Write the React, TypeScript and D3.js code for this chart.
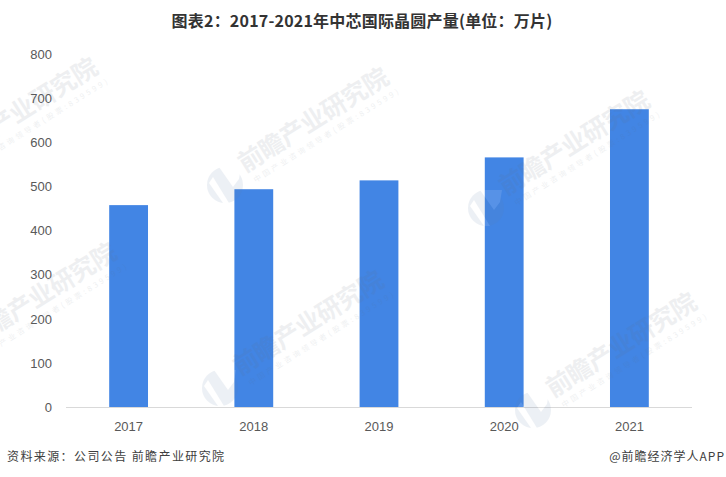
import React from "react";
import * as d3 from "d3";

const years = ["2017", "2018", "2019", "2020", "2021"];
const output = [458, 494, 514, 566, 675];
const yTicks = [0, 100, 200, 300, 400, 500, 600, 700, 800];
const titleText = "图表2\uFF1A2017-2021年中芯国际晶圆产量(单位\uFF1A万片)";
const sourceText = "资料来源\uFF1A公司公告 前瞻产业研究院";
const brandText = "@前瞻经济学人APP";
const watermarkMain = "前瞻产业研究院";
const watermarkSub = "中国产业咨询领导者(股票:839599)";
const watermarkAnchors: [number, number][] = [
  [-66, 175], [225, 185], [486, 208], [-47, 360], [220, 388], [533, 410],
];

const CJK = "'Noto Sans CJK SC','Liberation Sans',sans-serif";

function Watermark({ x, y }: { x: number; y: number }) {
  return (
    <g transform={`translate(${x},${y})`} pointerEvents="none">
      <g opacity={0.11}>
        <circle r={18} fill="#5f7fa8" />
        <path d="M-6,-18 L8,2 L14,-6 L16,-18 Z" fill="#fff" />
        <path d="M-12,-8 L4,18 L-2,18 L-16,-2 Z" fill="#fff" />
      </g>
      <g transform="translate(20,-12) rotate(-32)" opacity={0.1} fill="#5f7080" fontFamily={CJK}>
        <text x={0} y={0} fontSize={25} fontWeight={700} textLength={172} lengthAdjust="spacing">{watermarkMain}</text>
        <text x={4} y={14} fontSize={7.5} textLength={169} lengthAdjust="spacing">{watermarkSub}</text>
      </g>
    </g>
  );
}

export default function App() {
  const x = d3.scaleBand<string>().domain(years).range([66, 692]).paddingInner(0.69).paddingOuter(0.345);
  const y = d3.scaleLinear().domain([0, 800]).range([407.5, 54]);
  return (
    <svg width={726} height={477} style={{ position: "absolute", left: 0, top: 0, background: "#fff" }}>
      <text x={362} y={27} textAnchor="middle" fontFamily="'Noto Sans CJK SC',sans-serif" fontSize={16} fontWeight={700} letterSpacing={0.2} fill="#333">{titleText}</text>
      {yTicks.map((t) => (
        <text key={t} x={52} y={y(t) + 4.5} textAnchor="end" fontFamily="'Liberation Sans',sans-serif" fontSize={13} fill="#595959">{t}</text>
      ))}
      {years.map((c, i) => (
        <rect key={c} x={x(c)} y={y(output[i])} width={x.bandwidth()} height={y(0) - y(output[i])} fill="#4285e4" />
      ))}
      <line x1={66} x2={692} y1={407.5} y2={407.5} stroke="#d9d9d9" strokeWidth={1} />
      {years.map((c) => (
        <text key={c} x={x(c)! + x.bandwidth() / 2} y={431} textAnchor="middle" fontFamily="'Liberation Sans',sans-serif" fontSize={13} fill="#595959">{c}</text>
      ))}
      {watermarkAnchors.map(([a, b], i) => <Watermark key={i} x={a} y={b} />)}
      <text x={7} y={461} fontFamily={CJK} fontSize={12} letterSpacing={1.4} fill="#404040">{sourceText}</text>
      <text x={725} y={461} textAnchor="end" fontFamily={CJK} fontSize={12} letterSpacing={1} fill="#404040">{brandText}</text>
    </svg>
  );
}
